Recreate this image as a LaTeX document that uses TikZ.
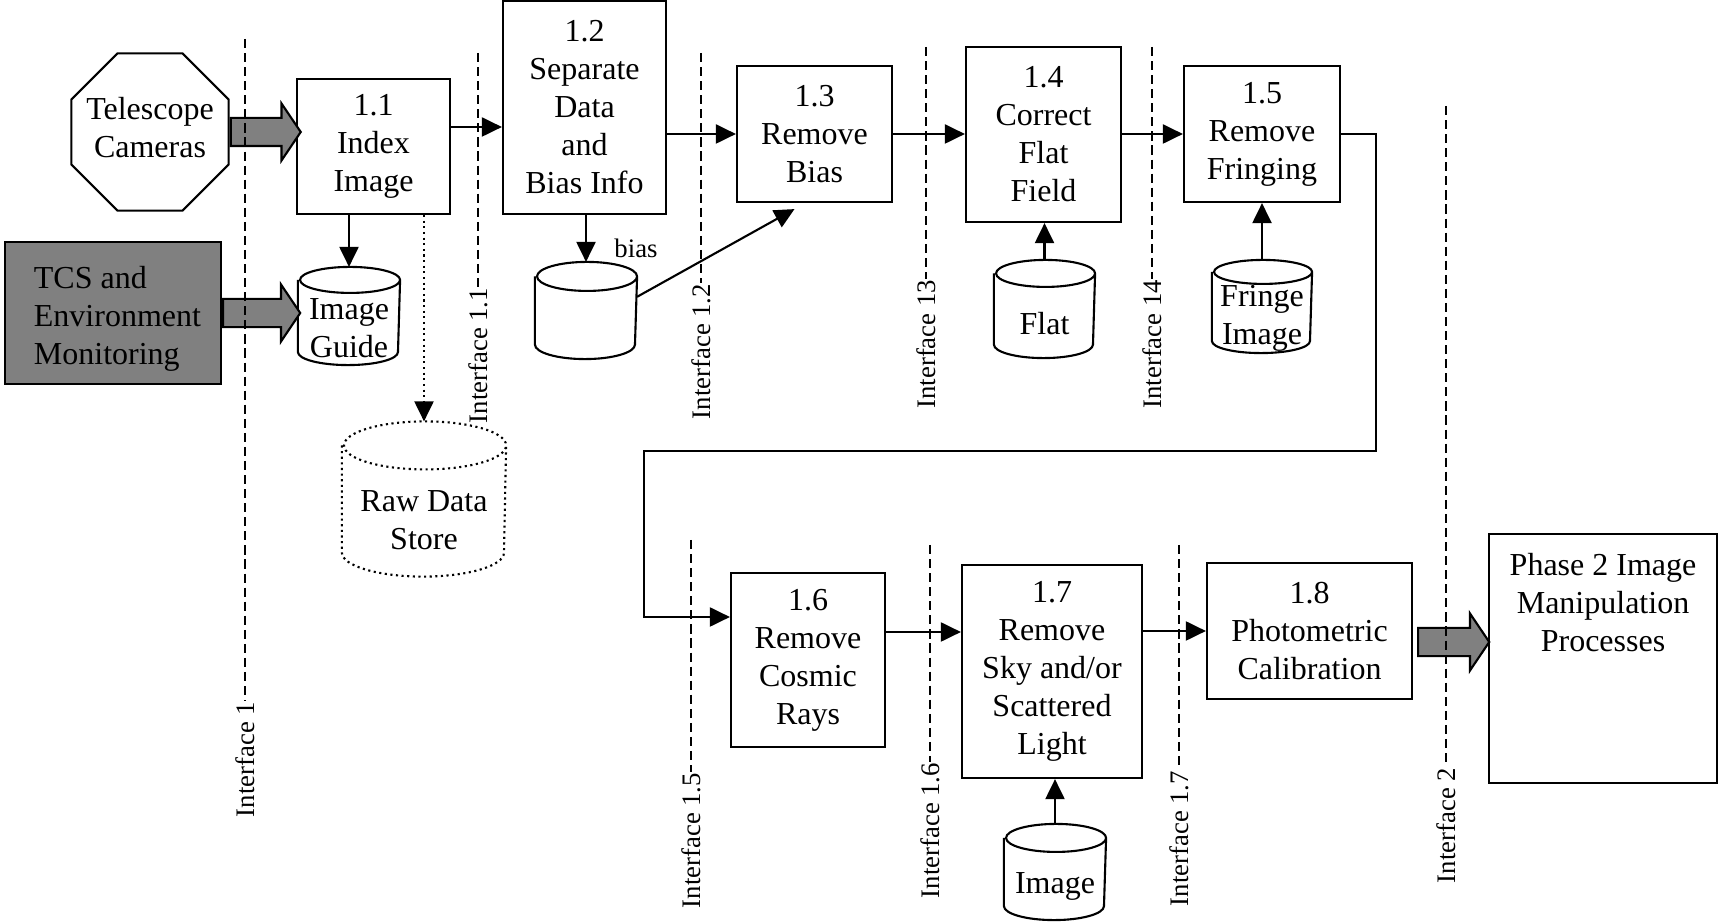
\documentclass[tikz,border=0pt]{standalone}
\usepackage{fontspec}
\setmainfont{Liberation Serif}
\usetikzlibrary{arrows.meta,shapes.geometric,shapes.arrows,calc}
\definecolor{shade}{gray}{0.5}
\newcommand{\boxfont}{\fontsize{9.1}{10.8}\selectfont}
\newcommand{\tagfont}{\fontsize{7.6}{9}\selectfont}
\newcommand{\drum}[4]{\draw[#4] ($(#1.north west)+(0,-#3)$) -- ($(#1.south west)+(0,#3)$)
    arc[start angle=180, end angle=360, x radius=#2, y radius=#3] -- ($(#1.north east)+(0,-#3)$)
    arc[start angle=0, end angle=180, x radius=#2, y radius=#3]
    arc[start angle=180, end angle=360, x radius=#2, y radius=#3];}

\begin{document}
\begin{tikzpicture}[x=0.01cm, y=-0.01cm, line width=0.6pt, >={Triangle[length=2mm,width=1.9mm]},
    proc/.style = {draw, rectangle, align=center, inner sep=0pt, font=\boxfont},
    tank/.style = {rectangle, inner sep=0pt},
    storetext/.style = {align=center, inner sep=0pt, font=\boxfont},
    fat/.style = {draw, fill=shade, single arrow, inner xsep=0pt, inner ysep=0.13cm, single arrow head extend=0.145cm, single arrow tip angle=112, minimum width=0.55cm, anchor=west},
    iface/.style = {dash pattern=on 2.6pt off 1.4pt},
    dotline/.style = {dash pattern=on 0.6pt off 1pt},
    ifacetag/.style = {rotate=90, anchor=east, inner sep=0pt, font=\tagfont}]
    \useasboundingbox (0,0) rectangle (1718,922);

    \node[regular polygon, regular polygon sides=8, draw, minimum size=1.70cm, inner sep=0pt] (tel) at (150,132) {};
    \node[storetext] (teltext) at ($(tel)+(0,-4)$) {Telescope\\Cameras};
    \node[proc, fill=shade, minimum width=2.16cm, minimum height=1.42cm] (tcs) at (113,313) {};
    \node[storetext, align=left, anchor=west] (tcstext) at ($(tcs.west)+(29,6)$) {TCS and\\Environment\\Monitoring};

    \node[proc, minimum width=1.53cm, minimum height=1.35cm] (b11) at (373.5,146.5) {1.1\\Index\\Image};
    \node[proc, minimum width=1.63cm, minimum height=2.13cm] (b12) at (584.5,107.5) {1.2\\Separate\\Data\\and\\Bias Info};
    \node[proc, minimum width=1.55cm, minimum height=1.36cm] (b13) at (814.5,134) {1.3\\Remove\\Bias};
    \node[proc, minimum width=1.55cm, minimum height=1.75cm] (b14) at (1043.5,134.5) {1.4\\Correct\\Flat\\Field};
    \node[proc, minimum width=1.56cm, minimum height=1.36cm] (b15) at (1262,134) {1.5\\Remove\\Fringing};
    \node[proc, minimum width=1.54cm, minimum height=1.74cm] (b16) at (808,660) {1.6\\Remove\\Cosmic\\Rays};
    \node[proc, minimum width=1.80cm, minimum height=2.13cm] (b17) at (1052,671.5) {1.7\\Remove\\Sky and/or\\Scattered\\Light};
    \node[proc, minimum width=2.05cm, minimum height=1.36cm] (b18) at (1309.5,631) {1.8\\Photometric\\Calibration};
    \node[proc, minimum width=2.28cm, minimum height=2.49cm] (ph2) at (1603,658.5) {};
    \node[storetext, anchor=north] (ph2text) at ($(ph2.north)+(0,19)$) {Phase 2 Image\\Manipulation\\Processes};

    \node[tank, minimum width=1.00cm, minimum height=0.96cm] (guide) at (349,316) {};
    \drum{guide}{0.5cm}{0.13cm}{}
    \node[storetext] (guidetext) at ($(guide)+(0,12)$) {Image\\Guide};
    \node[tank, minimum width=1.62cm, minimum height=1.53cm] (raw) at (424,499) {};
    \drum{raw}{0.81cm}{0.24cm}{dotline}
    \node[storetext] (rawtext) at ($(raw)+(0,21)$) {Raw Data\\Store};
    \node[tank, minimum width=1.00cm, minimum height=0.95cm] (bias) at (586,310.5) {};
    \drum{bias}{0.5cm}{0.145cm}{}
    \node[inner sep=0pt, font=\tagfont] (biastag) at (636,248) {bias};
    \node[tank, minimum width=0.99cm, minimum height=0.96cm] (flat) at (1044.5,309) {};
    \drum{flat}{0.495cm}{0.135cm}{}
    \node[storetext] (flattext) at ($(flat)+(0,15)$) {Flat};
    \node[tank, minimum width=0.98cm, minimum height=0.91cm] (fringe) at (1262,306.5) {};
    \drum{fringe}{0.49cm}{0.12cm}{}
    \node[storetext] (fringetext) at ($(fringe)+(0,12)$) {Fringe\\Image};
    \node[tank, minimum width=1.00cm, minimum height=0.94cm] (img) at (1055,872) {};
    \drum{img}{0.5cm}{0.14cm}{}
    \node[storetext] (imgtext) at ($(img)+(0,14)$) {Image};

    \node[fat, minimum height=0.70cm] (arrA) at (tel.east) {};
    \node[fat, minimum height=0.77cm] (arrB) at (tcs.east) {};
    \node[fat, minimum height=0.71cm] (arrC) at ($(b18.east)+(4,11)$) {};

    \coordinate (i1top) at (245,39);
    \node[ifacetag] (i1) at (245,701) {Interface 1};
    \draw[iface] (i1top) -- (i1.east);
    \coordinate (i11top) at (478,53);
    \node[ifacetag] (i11) at (478,287) {Interface 1.1};
    \draw[iface] (i11top) -- (i11.east);
    \coordinate (i12top) at (701,53);
    \node[ifacetag] (i12) at (701,283) {Interface 1.2};
    \draw[iface] (i12top) -- (i12.east);
    \coordinate (i13top) at (926,47);
    \node[ifacetag] (i13) at (926,279) {Interface 13};
    \draw[iface] (i13top) -- (i13.east);
    \coordinate (i14top) at (1152,47);
    \node[ifacetag] (i14) at (1152,279) {Interface 14};
    \draw[iface] (i14top) -- (i14.east);
    \coordinate (i15top) at (691,540);
    \node[ifacetag] (i15) at (691,772) {Interface 1.5};
    \draw[iface] (i15top) -- (i15.east);
    \coordinate (i16top) at (930,545);
    \node[ifacetag] (i16) at (930,762) {Interface 1.6};
    \draw[iface] (i16top) -- (i16.east);
    \coordinate (i17top) at (1179,545);
    \node[ifacetag] (i17) at (1179,770) {Interface 1.7};
    \draw[iface] (i17top) -- (i17.east);
    \coordinate (i2top) at (1446,106);
    \node[ifacetag] (i2) at (1446,767) {Interface 2};
    \draw[iface] (i2top) -- (i2.east);

    \draw[->] (b11.east |- 0,127) -- (b12.west |- 0,127);
    \draw[->] (b12.east |- b13.west) -- (b13.west);
    \draw[->] (b13.east) -- (b13.east -| b14.west);
    \draw[->] (b14.east |- b15.west) -- (b15.west);
    \draw[->] (b15.east) -- (1376,134) -- (1376,451) -- (644,451) -- (644,617) -- (b16.west |- 0,617);
    \draw[->] (b16.east |- 0,632) -- (b17.west |- 0,632);
    \draw[->] (b17.east |- b18.west) -- (b18.west);
    \draw[->] (guide.north |- b11.south) -- (guide.north);
    \draw[->, dotline] (raw.north |- b11.south) -- (raw.north);
    \draw[->] (bias.north |- b12.south) -- (bias.north);
    \draw[->] (bias.15) -- ($(b13.south)+(-20,6)$);
    \draw[->] (flat.north) -- (flat.north |- b14.south);
    \draw[->] (fringe.north) -- (fringe.north |- b15.south);
    \draw[->] (img.north) -- (img.north |- b17.south);
\end{tikzpicture}
\end{document}
